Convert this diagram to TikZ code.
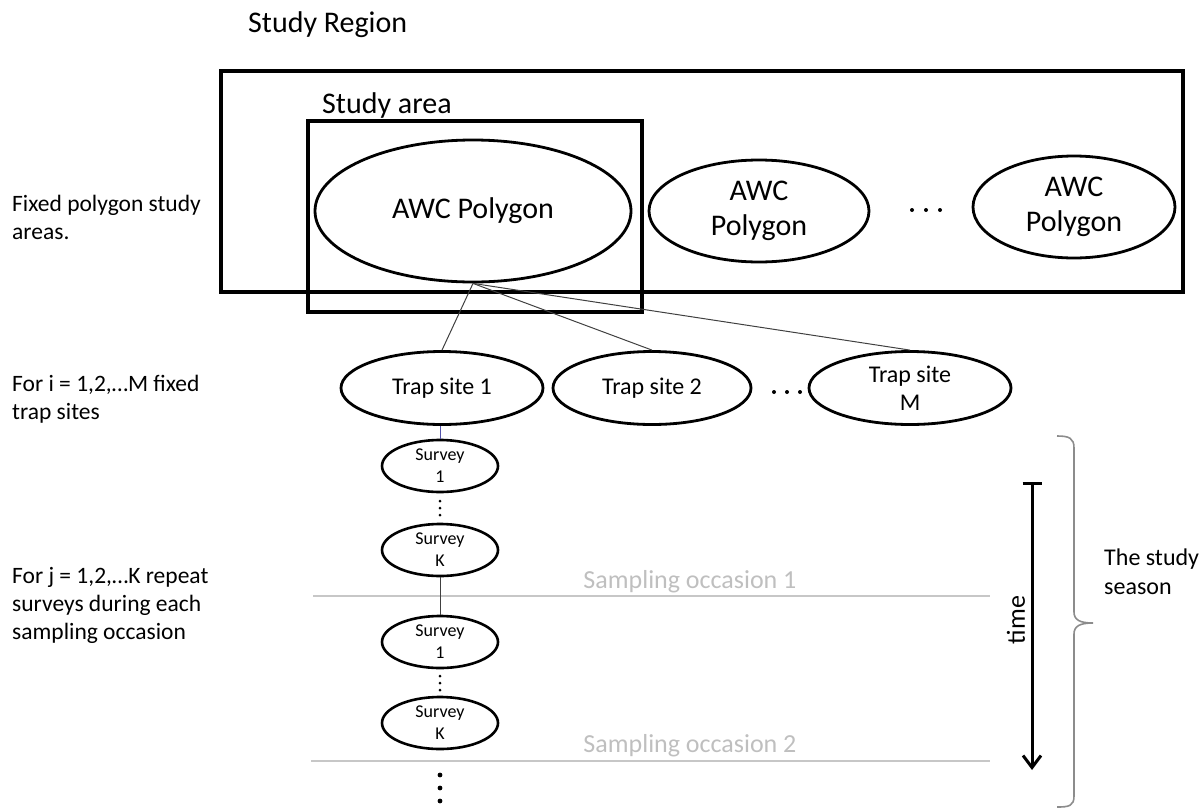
\documentclass[tikz,border=0pt]{standalone}
\usepackage{fontspec}
\setmainfont{Carlito}
\usetikzlibrary{shapes.geometric}
\usetikzlibrary{positioning}
\usetikzlibrary{arrows.meta}

\tikzset{
  box/.style={draw, line width=3.2pt},
  polygon/.style={draw, ellipse, line width=2.8pt, inner sep=0pt, align=center, font=\fontsize{30}{35}\selectfont},
  trapsite/.style={draw, ellipse, line width=2.8pt, inner sep=0pt, align=center, minimum width=202pt, minimum height=73pt, font=\fontsize{24}{28}\selectfont},
  survey/.style={draw, ellipse, line width=2.6pt, inner sep=0pt, align=center, minimum width=116pt, minimum height=52pt, font=\fontsize{18}{22}\selectfont},
  sidenote/.style={anchor=west, align=left, inner sep=0pt, font=\fontsize{23.5}{28}\selectfont},
  heading/.style={anchor=base west, inner sep=0pt, font=\fontsize{30}{35}\selectfont},
  occasion/.style={inner sep=0pt, text=black!25, font=\fontsize{26}{30}\selectfont},
  link/.style={line width=1pt, black!75},
  separator/.style={line width=1.6pt, black!22},
}

\begin{document}
\begin{tikzpicture}[x=1pt, y=-1pt]
  \useasboundingbox (0,0) rectangle (1202,809);

  % Study region and study area
  \node[heading] (region) at (248,32) {Study Region};
  \draw[box] (221,71) rectangle (1183,292);
  \node[heading] (area) at (322,113) {Study area};
  \draw[box] (308,121) rectangle (642,312);

  % AWC polygons
  \node[polygon, minimum width=316pt, minimum height=142pt] (awc1) at (473,211) {AWC Polygon};
  \node[polygon, minimum width=220pt, minimum height=102pt] (awc2) at (759,211) {AWC\\Polygon};
  \node[polygon, minimum width=202pt, minimum height=102pt] (awc3) at (1074,207) {AWC\\Polygon};
  \foreach \x in {912,926,940}
    \fill (\x,210) circle (2pt);

  % Trap sites
  \node[trapsite] (trap1) at (442,388) {Trap site 1};
  \node[trapsite, minimum width=198pt] (trap2) at (652,388) {Trap site 2};
  \node[trapsite] (trapM) at (910,388) {Trap site\\M};
  \foreach \x in {774,787,800}
    \fill (\x,392) circle (2pt);

  \draw[link] (awc1.south) -- (trap1.north);
  \draw[link] (awc1.south) -- (trap2.north);
  \draw[link] (awc1.south) -- (trapM.north);

  % Sampling occasions
  \draw[separator] (313,596) -- (990,596);
  \draw[separator] (311,761) -- (990,761);
  \node[occasion] (occ1) at (690,582) {Sampling occasion 1};
  \node[occasion] (occ2) at (690,746) {Sampling occasion 2};

  % Repeat surveys
  \node[survey] (s1a) at (440,466) {Survey\\1};
  \node[survey] (ska) at (440,550) {Survey\\K};
  \node[survey] (s1b) at (440,642) {Survey\\1};
  \node[survey] (skb) at (440,723) {Survey\\K};
  \foreach \y in {501,508,515}
    \fill (440,\y) circle (1.5pt);
  \foreach \y in {676,683,690}
    \fill (440,\y) circle (1.5pt);
  \foreach \y in {775,788,801}
    \fill (440,\y) circle (2.4pt);

  \draw[line width=1pt, blue!35!gray] (s1a.north) -- (s1a.north |- trap1.south);
  \draw[link] (ska.south) -- (s1b.north);

  % Time arrow and season brace
  \coordinate (tstart) at (1032,482);
  \coordinate (tend) at (1032,770);
  \draw[line width=3pt, {Bar[width=19pt]}-{Straight Barb[length=12pt, width=18pt]}] (tstart) -- (tend);
  \node[rotate=90, inner sep=0pt, font=\fontsize{26}{30}\selectfont] (time) at (1016,620) {time};

  \draw[line width=1.6pt, black!45] (1057,436) .. controls (1069,436) and (1074,438) .. (1074,448)
    -- (1074,612) .. controls (1074,620) and (1080,623) .. (1093,623)
    .. controls (1080,623) and (1074,626) .. (1074,634)
    -- (1074,796) .. controls (1074,806) and (1069,807) .. (1057,807);
  \node[anchor=west, align=left, inner sep=0pt, font=\fontsize{24}{29}\selectfont] (season) at (1104,572) {The study\\season};

  % Notes on the left
  \node[sidenote] (note1) at (12,217) {Fixed polygon study\\areas.};
  \node[sidenote] (note2) at (12,399) {For i = 1,2,…M fixed\\trap sites};
  \node[sidenote] (note3) at (12,605) {For j = 1,2,…K repeat\\surveys during each\\sampling occasion};
\end{tikzpicture}
\end{document}
